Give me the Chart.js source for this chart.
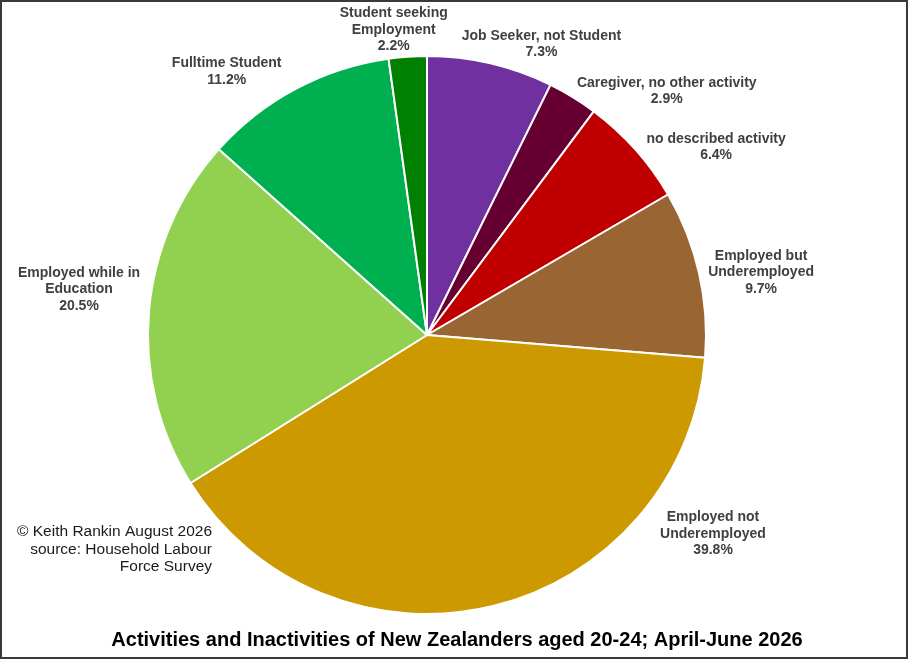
<!DOCTYPE html>
<html>
<head>
<meta charset="utf-8">
<script src="https://cdn.jsdelivr.net/npm/chart.js@4/dist/chart.umd.min.js"></script>
<style>
  html, body { margin: 0; padding: 0; background: #fff; }
  #wrap { width: 910px; height: 661px; position: relative; }
</style>
</head>
<body>
<div id="wrap"><canvas id="c" width="910" height="661"></canvas></div>
<script>
// ---- data ----
const categories = [
  ['Job Seeker, not Student'],
  ['Caregiver, no other activity'],
  ['no described activity'],
  ['Employed but', 'Underemployed'],
  ['Employed not', 'Underemployed'],
  ['Employed while in', 'Education'],
  ['Fulltime Student'],
  ['Student seeking', 'Employment']
];
const shares = [7.3, 2.9, 6.4, 9.7, 39.8, 20.5, 11.2, 2.2];
const sliceColors = ['#7030A0', '#660033', '#C00000', '#996633', '#CC9900', '#92D050', '#00B050', '#008000'];
const chartTitle = 'Activities and Inactivities of New Zealanders aged 20-24; April-June 2026';
const creditLines = ['\u00A9 Keith Rankin August 2026', 'source: Household Labour', 'Force Survey'];

// label nudges relative to each slice's outer mid-point (layout only)
const labelNudge = [[51, -19], [94, -6], [81, -2], [62, -1], [220, -72], [-70, -22], [-69, -17], [-14, -27]];

const labelPlugin = {
  id: 'labels',
  afterDatasetsDraw(chart) {
    const ctx = chart.ctx;
    const meta = chart.getDatasetMeta(0);
    ctx.save();
    ctx.font = 'bold 14px "Liberation Sans", Arial, sans-serif';
    ctx.fillStyle = '#404040';
    ctx.textAlign = 'center';
    ctx.textBaseline = 'middle';
    const lh = 16.5;
    meta.data.forEach((arc, i) => {
      const p = arc.getProps(['x', 'y', 'startAngle', 'endAngle', 'outerRadius'], true);
      const mid = (p.startAngle + p.endAngle) / 2;
      const ax = p.x + Math.cos(mid) * p.outerRadius + labelNudge[i][0];
      const ay = p.y + Math.sin(mid) * p.outerRadius + labelNudge[i][1];
      const lines = categories[i].concat([shares[i].toFixed(1) + '%']);
      const top = ay - (lines.length - 1) * lh / 2;
      lines.forEach((t, k) => ctx.fillText(t, ax, top + k * lh));
    });
    ctx.restore();
  },
  afterDraw(chart) {
    const ctx = chart.ctx;
    ctx.save();
    // title
    ctx.font = 'bold 20px "Liberation Sans", Arial, sans-serif';
    ctx.fillStyle = '#000000';
    ctx.textAlign = 'center';
    ctx.textBaseline = 'middle';
    ctx.fillText(chartTitle, 457, 640);
    // credit
    ctx.font = '15.5px "Liberation Sans", Arial, sans-serif';
    ctx.fillStyle = '#1a1a1a';
    ctx.textAlign = 'right';
    creditLines.forEach((t, k) => ctx.fillText(t, 212, 532 + k * 17.5));
    // frame
    ctx.strokeStyle = '#3a3a3a';
    ctx.lineWidth = 2;
    ctx.strokeRect(1, 1, 906, 657);
    ctx.restore();
  }
};

new Chart(document.getElementById('c'), {
  type: 'pie',
  data: {
    labels: categories.map(c => c.join(' ')),
    datasets: [{
      data: shares,
      backgroundColor: sliceColors,
      borderColor: '#ffffff',
      borderWidth: 2
    }]
  },
  options: {
    responsive: false,
    animation: false,
    devicePixelRatio: 1,
    layout: { padding: { left: 147, right: 203, top: 55, bottom: 46 } },
    plugins: {
      legend: { display: false },
      tooltip: { enabled: false },
      title: { display: false }
    }
  },
  plugins: [labelPlugin]
});
</script>
</body>
</html>
